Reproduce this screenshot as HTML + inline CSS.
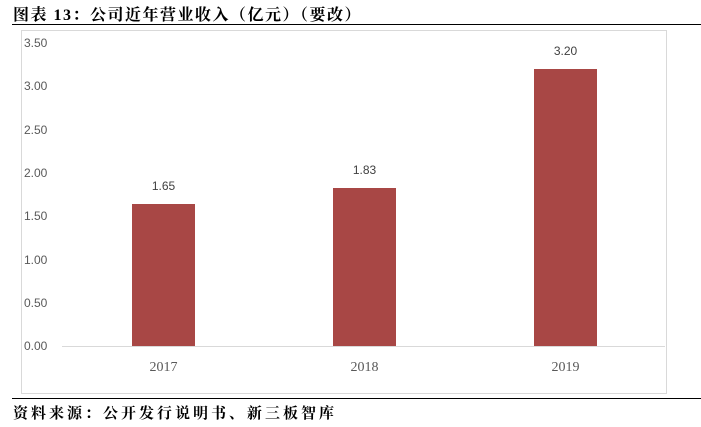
<!DOCTYPE html>
<html><head><meta charset="utf-8"><style>
body{margin:0;width:701px;height:427px;background:#fff;overflow:hidden;position:relative;font-family:"Liberation Sans","Noto Serif CJK SC",sans-serif}
.t{position:absolute;left:13px;top:2px;font-size:16px;font-weight:bold;font-family:"Liberation Serif","Noto Serif CJK SC",serif;color:#000;letter-spacing:1.5px;white-space:nowrap}
.hl{position:absolute;left:12px;width:689px;height:1px;background:#000}
</style></head><body>
<div class="t">图表 13：公司近年营业收入（亿元）（要改）</div>
<div class="hl" style="top:24px"></div>
<svg width="701" height="427" style="position:absolute;left:0;top:0">
<rect x="21.5" y="30.5" width="645" height="363" fill="none" stroke="#d9d9d9"/>
<line x1="62" y1="346.5" x2="665" y2="346.5" stroke="#d9d9d9"/>
<g font-family="Liberation Sans,sans-serif" font-size="12" fill="#595959">
<text x="24" y="350">0.00</text><text x="24" y="307">0.50</text><text x="24" y="264">1.00</text><text x="24" y="220">1.50</text><text x="24" y="177">2.00</text><text x="24" y="134">2.50</text><text x="24" y="90">3.00</text><text x="24" y="47">3.50</text>
</g>
<g fill="#A84745">
<rect x="132" y="204" width="63" height="142"/>
<rect x="333" y="188" width="63" height="158"/>
<rect x="534" y="69" width="63" height="277"/>
</g>
<g font-family="Liberation Sans,sans-serif" font-size="12" fill="#404040" text-anchor="middle">
<text x="163.5" y="190">1.65</text><text x="364.5" y="174">1.83</text><text x="565.5" y="55">3.20</text>
</g>
<g font-family="Liberation Serif,serif" font-size="14" fill="#595959" text-anchor="middle">
<text x="163.5" y="371">2017</text><text x="364.5" y="371">2018</text><text x="565.5" y="371">2019</text>
</g>
</svg>
<div class="hl" style="top:398px"></div>
<div class="t" style="top:402px;font-size:15px;letter-spacing:3px">资料来源：公开发行说明书、新三板智库</div>
</body></html>
